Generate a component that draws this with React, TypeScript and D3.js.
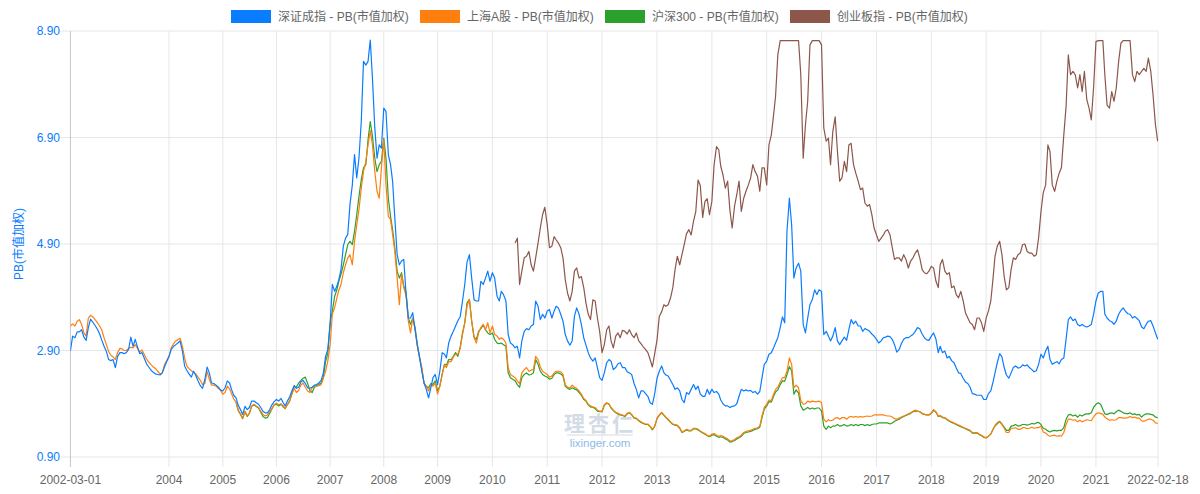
import { useMemo } from 'react';
import * as d3 from 'd3';

// semi-monthly samples, first point 2002-03-01
const startDate = new Date(2002, 2, 1);
const endDate = new Date(2022, 1, 18);
const greenOffset = 74; // 沪深300 starts 2005-04
const brownOffset = 198; // 创业板指 starts 2010-06

const seriesNames = [
  '深证成指 - PB(市值加权)',
  '上海A股 - PB(市值加权)',
  '沪深300 - PB(市值加权)',
  '创业板指 - PB(市值加权)',
];
const seriesColors = ['#0a7cff', '#ff7f0e', '#2ca02c', '#8c564b'];

const szValues = [
  2.89, 3.17, 3.14, 3.25, 3.25, 3.29, 3.15, 3.09, 3.33, 3.49, 3.43, 3.37, 3.30, 3.21, 3.09, 2.98, 2.88, 2.73, 2.71, 2.73,
  2.58, 2.79, 2.86, 2.86, 2.84, 2.86, 2.92, 3.15, 2.98, 3.11, 2.96, 2.84, 2.86, 2.76, 2.65, 2.59, 2.53, 2.49, 2.46, 2.45, 2.44, 2.48, 2.59, 2.69,
  2.79, 2.92, 2.98, 3.01, 3.04, 3.08, 2.89, 2.61, 2.53, 2.46, 2.40, 2.51, 2.43, 2.33, 2.24, 2.19, 2.36, 2.59, 2.48, 2.29, 2.28, 2.25, 2.21, 2.16,
  2.14, 2.20, 2.33, 2.29, 2.17, 2.06, 2.01, 1.87, 1.79, 1.70, 1.85, 1.79, 1.83, 1.95, 1.95, 1.92, 1.89, 1.83, 1.76, 1.73, 1.73, 1.79, 1.88, 1.94,
  1.98, 1.95, 2.00, 1.92, 1.86, 1.95, 2.03, 2.14, 2.24, 2.19, 2.21, 2.31, 2.34, 2.28, 2.20, 2.19, 2.21, 2.25, 2.26, 2.29, 2.34, 2.48, 2.79, 2.92,
  3.39, 4.14, 4.01, 4.11, 4.23, 4.42, 4.86, 5.01, 5.08, 5.64, 6.01, 6.58, 6.14, 6.51, 7.20, 8.33, 8.26, 8.33, 8.73, 8.01, 7.08, 6.51, 6.76, 6.70,
  7.45, 7.39, 6.58, 6.39, 6.08, 5.39, 4.70, 4.51, 4.58, 4.61, 3.95, 3.51, 3.51, 3.61, 3.29, 3.01, 2.76, 2.51, 2.29, 2.17, 2.01, 2.20, 2.39, 2.45,
  2.26, 2.51, 2.86, 2.83, 2.76, 3.04, 3.17, 3.26, 3.36, 3.46, 3.54, 3.83, 4.14, 4.56, 4.70, 4.26, 3.85, 3.83, 3.83, 4.20, 4.14, 4.26, 4.39, 4.20,
  4.36, 4.26, 3.92, 3.83, 4.01, 3.95, 3.83, 3.20, 3.04, 3.01, 2.95, 2.98, 2.76, 3.08, 3.26, 3.31, 3.29, 3.36, 3.39, 3.83, 3.73, 3.48, 3.58, 3.51,
  3.64, 3.67, 3.51, 3.64, 3.73, 3.70, 3.58, 3.45, 3.20, 3.08, 3.00, 3.08, 3.54, 3.70, 3.58, 3.39, 3.14, 3.00, 2.86, 2.76, 2.70, 2.76, 2.58, 2.39,
  2.34, 2.48, 2.67, 2.73, 2.70, 2.54, 2.58, 2.65, 2.67, 2.58, 2.58, 2.50, 2.48, 2.45, 2.28, 2.17, 2.01, 2.14, 2.14, 2.09, 2.04, 1.92, 1.89, 2.08,
  2.38, 2.51, 2.61, 2.48, 2.44, 2.42, 2.34, 2.26, 2.17, 2.20, 2.14, 1.98, 1.92, 2.11, 2.08, 2.17, 2.26, 2.17, 2.23, 2.08, 2.04, 2.04, 2.17, 2.08,
  2.17, 2.11, 2.13, 2.08, 1.97, 1.90, 1.86, 1.86, 1.83, 1.85, 1.86, 1.90, 2.04, 2.17, 2.14, 2.16, 2.14, 2.15, 2.11, 2.13, 2.08, 2.13, 2.39, 2.64,
  2.70, 2.83, 2.86, 2.95, 3.04, 3.14, 3.33, 3.53, 3.42, 5.14, 5.76, 5.26, 4.26, 4.45, 4.54, 4.39, 3.39, 3.23, 3.51, 3.76, 3.86, 4.04, 3.95, 4.04,
  4.01, 3.20, 3.26, 3.17, 3.08, 3.17, 3.33, 3.08, 3.01, 3.08, 3.15, 3.09, 3.29, 3.48, 3.40, 3.45, 3.36, 3.36, 3.26, 3.31, 3.29, 3.26, 3.21, 3.17,
  3.11, 3.04, 3.08, 3.14, 3.15, 3.17, 3.16, 3.11, 3.01, 2.87, 2.92, 3.03, 3.11, 3.14, 3.14, 3.17, 3.20, 3.26, 3.33, 3.31, 3.21, 3.14, 3.10, 3.09,
  3.17, 3.23, 3.11, 2.86, 2.98, 2.86, 2.89, 2.76, 2.79, 2.71, 2.67, 2.57, 2.48, 2.47, 2.38, 2.31, 2.28, 2.21, 2.09, 2.08, 2.06, 2.06, 2.06, 1.98,
  1.98, 2.09, 2.14, 2.31, 2.48, 2.67, 2.84, 2.78, 2.58, 2.44, 2.38, 2.48, 2.58, 2.61, 2.57, 2.58, 2.63, 2.61, 2.63, 2.58, 2.54, 2.50, 2.52, 2.64,
  2.83, 2.76, 2.89, 2.98, 2.73, 2.64, 2.67, 2.69, 2.65, 2.73, 2.76, 3.11, 3.48, 3.53, 3.46, 3.49, 3.39, 3.36, 3.39, 3.36, 3.34, 3.36, 3.39, 3.58,
  3.83, 3.98, 4.01, 4.01, 3.58, 3.51, 3.46, 3.44, 3.39, 3.45, 3.58, 3.65, 3.70, 3.64, 3.59, 3.58, 3.51, 3.54, 3.50, 3.46, 3.34, 3.31, 3.39, 3.45,
  3.46, 3.36, 3.23, 3.11,
];

const shValues = [
  3.36, 3.40, 3.36, 3.45, 3.48, 3.39, 3.23, 3.17, 3.51, 3.56, 3.53, 3.48, 3.42, 3.36, 3.28, 3.14, 3.01, 2.88, 2.81, 2.78,
  2.73, 2.86, 2.94, 2.93, 2.90, 2.90, 2.94, 2.96, 2.95, 3.01, 2.94, 2.87, 2.91, 2.83, 2.74, 2.68, 2.63, 2.59, 2.56, 2.51, 2.46, 2.48, 2.63, 2.71,
  2.79, 2.95, 3.03, 3.08, 3.10, 3.13, 2.98, 2.76, 2.61, 2.56, 2.52, 2.49, 2.46, 2.40, 2.34, 2.26, 2.28, 2.51, 2.36, 2.25, 2.25, 2.23, 2.19, 2.15,
  2.08, 2.11, 2.23, 2.18, 2.09, 1.99, 1.93, 1.78, 1.71, 1.63, 1.76, 1.67, 1.73, 1.86, 1.89, 1.86, 1.83, 1.76, 1.70, 1.67, 1.69, 1.75, 1.81, 1.88,
  1.91, 1.88, 1.90, 1.86, 1.81, 1.89, 1.96, 2.08, 2.19, 2.11, 2.15, 2.25, 2.29, 2.21, 2.14, 2.11, 2.20, 2.23, 2.23, 2.24, 2.26, 2.38, 2.51, 2.70,
  3.01, 3.58, 3.71, 3.89, 4.03, 4.14, 4.36, 4.51, 4.64, 4.70, 4.51, 4.95, 5.26, 5.54, 5.95, 6.26, 6.45, 6.76, 7.03, 6.76, 6.26, 5.89, 5.76, 6.33,
  6.86, 6.01, 5.42, 5.36, 5.08, 4.76, 4.26, 3.76, 4.33, 4.08, 3.92, 3.45, 3.23, 3.51, 3.29, 2.98, 2.76, 2.58, 2.28, 2.23, 2.14, 2.26, 2.23, 2.29,
  2.08, 2.23, 2.45, 2.63, 2.58, 2.69, 2.69, 2.78, 2.83, 2.83, 2.94, 3.20, 3.42, 3.73, 3.86, 3.45, 3.14, 3.04, 3.23, 3.33, 3.39, 3.29, 3.42, 3.23,
  3.36, 3.20, 3.17, 3.11, 3.14, 3.11, 3.04, 2.58, 2.45, 2.42, 2.39, 2.33, 2.28, 2.48, 2.54, 2.58, 2.51, 2.53, 2.54, 2.79, 2.73, 2.59, 2.51, 2.48,
  2.45, 2.40, 2.42, 2.48, 2.51, 2.51, 2.50, 2.45, 2.26, 2.21, 2.20, 2.25, 2.21, 2.19, 2.14, 2.08, 2.00, 1.96, 1.89, 1.86, 1.84, 1.83, 1.78, 1.76,
  1.76, 1.88, 1.92, 1.90, 1.83, 1.78, 1.74, 1.72, 1.70, 1.69, 1.67, 1.72, 1.74, 1.70, 1.64, 1.63, 1.59, 1.56, 1.54, 1.52, 1.52, 1.48, 1.42, 1.48,
  1.63, 1.69, 1.74, 1.69, 1.65, 1.61, 1.56, 1.52, 1.51, 1.50, 1.45, 1.37, 1.39, 1.42, 1.40, 1.40, 1.44, 1.44, 1.42, 1.39, 1.36, 1.34, 1.31, 1.29,
  1.33, 1.34, 1.31, 1.29, 1.30, 1.29, 1.26, 1.24, 1.20, 1.21, 1.23, 1.26, 1.28, 1.31, 1.36, 1.38, 1.39, 1.40, 1.42, 1.44, 1.45, 1.48, 1.67, 1.83,
  1.89, 1.97, 1.96, 2.08, 2.17, 2.21, 2.31, 2.39, 2.39, 2.51, 2.76, 2.64, 2.20, 2.25, 2.20, 1.96, 1.89, 1.90, 1.95, 1.93, 1.95, 1.94, 1.94, 1.95,
  1.92, 1.61, 1.56, 1.60, 1.58, 1.59, 1.63, 1.64, 1.61, 1.64, 1.64, 1.61, 1.65, 1.66, 1.65, 1.66, 1.65, 1.66, 1.65, 1.66, 1.67, 1.66, 1.67, 1.69,
  1.69, 1.69, 1.69, 1.69, 1.68, 1.67, 1.67, 1.65, 1.62, 1.61, 1.63, 1.65, 1.67, 1.69, 1.71, 1.73, 1.76, 1.78, 1.76, 1.75, 1.71, 1.70, 1.69, 1.69,
  1.73, 1.79, 1.75, 1.67, 1.68, 1.65, 1.64, 1.61, 1.58, 1.56, 1.54, 1.52, 1.50, 1.48, 1.46, 1.44, 1.42, 1.40, 1.36, 1.36, 1.36, 1.33, 1.31, 1.28,
  1.26, 1.29, 1.33, 1.42, 1.48, 1.52, 1.56, 1.51, 1.44, 1.36, 1.36, 1.44, 1.44, 1.45, 1.42, 1.42, 1.45, 1.45, 1.43, 1.44, 1.46, 1.44, 1.45, 1.45,
  1.48, 1.37, 1.35, 1.31, 1.29, 1.30, 1.31, 1.29, 1.30, 1.29, 1.36, 1.51, 1.61, 1.61, 1.59, 1.60, 1.56, 1.59, 1.56, 1.58, 1.60, 1.59, 1.58, 1.65,
  1.71, 1.73, 1.72, 1.70, 1.65, 1.62, 1.59, 1.60, 1.59, 1.60, 1.64, 1.64, 1.63, 1.63, 1.64, 1.66, 1.64, 1.65, 1.63, 1.63, 1.58, 1.57, 1.59, 1.61,
  1.61, 1.59, 1.54, 1.53,
];

const hs300Values = [
  1.92, 1.77, 1.70, 1.62, 1.75, 1.66, 1.72, 1.85, 1.88, 1.85, 1.82, 1.74, 1.66, 1.63, 1.64, 1.72, 1.80, 1.88,
  1.89, 1.86, 1.89, 1.84, 1.81, 1.88, 1.95, 2.09, 2.23, 2.21, 2.29, 2.34, 2.38, 2.40, 2.28, 2.15, 2.11, 2.21, 2.24, 2.26, 2.29, 2.40, 2.69, 2.84,
  3.42, 3.64, 3.92, 4.04, 4.20, 4.33, 4.51, 4.70, 4.89, 4.95, 4.89, 5.14, 5.45, 5.79, 6.11, 6.33, 6.39, 6.86, 7.20, 6.92, 6.51, 6.26, 6.39, 6.45,
  6.89, 6.51, 5.76, 5.42, 5.17, 4.83, 4.39, 4.26, 4.36, 4.11, 3.98, 3.51, 3.39, 3.51, 3.33, 3.01, 2.76, 2.54, 2.29, 2.23, 2.20, 2.28, 2.26, 2.33,
  2.14, 2.23, 2.46, 2.64, 2.63, 2.73, 2.73, 2.79, 2.86, 2.79, 2.97, 3.23, 3.42, 3.79, 3.86, 3.45, 3.15, 3.11, 3.26, 3.31, 3.38, 3.29, 3.23, 3.20,
  3.23, 3.11, 3.04, 3.03, 3.04, 3.01, 2.98, 2.48, 2.39, 2.36, 2.33, 2.26, 2.21, 2.39, 2.45, 2.48, 2.44, 2.45, 2.48, 2.73, 2.64, 2.51, 2.45, 2.42,
  2.40, 2.36, 2.38, 2.45, 2.48, 2.48, 2.46, 2.42, 2.23, 2.19, 2.17, 2.20, 2.18, 2.16, 2.11, 2.06, 1.98, 1.95, 1.88, 1.84, 1.83, 1.81, 1.76, 1.75,
  1.75, 1.87, 1.91, 1.89, 1.82, 1.77, 1.73, 1.71, 1.69, 1.68, 1.66, 1.71, 1.73, 1.69, 1.63, 1.62, 1.58, 1.55, 1.53, 1.51, 1.51, 1.47, 1.41, 1.47,
  1.62, 1.68, 1.73, 1.68, 1.64, 1.60, 1.55, 1.51, 1.50, 1.49, 1.44, 1.36, 1.38, 1.41, 1.39, 1.39, 1.43, 1.43, 1.41, 1.38, 1.35, 1.33, 1.30, 1.28,
  1.31, 1.32, 1.29, 1.27, 1.28, 1.27, 1.24, 1.22, 1.18, 1.19, 1.21, 1.24, 1.26, 1.29, 1.34, 1.36, 1.37, 1.38, 1.40, 1.42, 1.43, 1.46, 1.64, 1.80,
  1.86, 1.94, 1.93, 2.04, 2.12, 2.16, 2.26, 2.33, 2.32, 2.45, 2.60, 2.52, 2.08, 2.16, 2.10, 1.86, 1.78, 1.80, 1.83, 1.80, 1.82, 1.80, 1.82, 1.82,
  1.76, 1.48, 1.42, 1.48, 1.45, 1.48, 1.48, 1.51, 1.48, 1.49, 1.51, 1.48, 1.49, 1.51, 1.49, 1.51, 1.49, 1.51, 1.51, 1.49, 1.51, 1.49, 1.51, 1.52,
  1.52, 1.54, 1.54, 1.54, 1.54, 1.54, 1.52, 1.54, 1.57, 1.59, 1.61, 1.64, 1.66, 1.68, 1.70, 1.72, 1.75, 1.76, 1.76, 1.75, 1.72, 1.70, 1.69, 1.69,
  1.72, 1.78, 1.74, 1.66, 1.67, 1.64, 1.63, 1.60, 1.57, 1.55, 1.53, 1.51, 1.49, 1.47, 1.45, 1.43, 1.41, 1.39, 1.35, 1.35, 1.35, 1.32, 1.30, 1.27,
  1.26, 1.29, 1.33, 1.42, 1.49, 1.54, 1.57, 1.52, 1.46, 1.40, 1.40, 1.48, 1.49, 1.51, 1.48, 1.49, 1.51, 1.51, 1.50, 1.51, 1.53, 1.52, 1.54, 1.55,
  1.51, 1.44, 1.42, 1.39, 1.37, 1.39, 1.40, 1.39, 1.40, 1.40, 1.45, 1.61, 1.69, 1.70, 1.67, 1.69, 1.65, 1.69, 1.67, 1.70, 1.71, 1.71, 1.73, 1.83,
  1.89, 1.92, 1.89, 1.79, 1.71, 1.70, 1.72, 1.73, 1.71, 1.75, 1.78, 1.76, 1.73, 1.72, 1.71, 1.73, 1.70, 1.71, 1.69, 1.70, 1.65, 1.69, 1.71, 1.71,
  1.70, 1.69, 1.65, 1.64,
];

const cybValues = [
  4.92, 5.01, 4.14, 4.39, 4.64, 4.67, 4.76, 4.51, 4.39, 4.64, 4.92, 5.20, 5.45, 5.59,
  5.26, 4.83, 4.86, 5.04, 4.98, 4.92, 4.83, 4.64, 4.23, 3.98, 3.83, 4.01, 4.39, 4.45, 4.26, 4.29, 4.08, 3.79, 3.58, 3.48, 3.85, 3.83, 3.51, 3.26,
  2.86, 3.01, 3.29, 3.36, 3.08, 2.95, 3.17, 3.23, 3.14, 3.28, 3.26, 3.21, 3.29, 3.20, 3.14, 3.23, 3.08, 3.03, 2.97, 2.92, 2.86, 2.73, 2.59, 2.83,
  3.10, 3.54, 3.63, 3.76, 3.73, 3.76, 3.89, 4.08, 4.42, 4.67, 4.51, 4.70, 4.89, 5.09, 5.17, 5.07, 5.33, 5.51, 6.10, 6.00, 5.40, 5.70, 5.75, 5.45,
  5.70, 6.39, 6.73, 6.67, 6.36, 6.20, 5.95, 6.08, 5.54, 5.20, 5.61, 5.83, 6.08, 5.51, 5.76, 5.89, 6.01, 6.14, 6.39, 6.26, 6.17, 5.89, 6.33, 6.33,
  6.01, 6.76, 6.95, 7.33, 7.67, 8.45, 8.72, 8.72, 8.72, 8.72, 8.72, 8.72, 8.72, 8.72, 8.72, 8.08, 6.51, 7.14, 7.58, 8.64, 8.72, 8.72, 8.72, 8.72,
  8.64, 7.08, 6.83, 6.89, 6.39, 7.01, 7.29, 6.64, 6.08, 6.14, 6.45, 6.26, 6.76, 6.79, 6.39, 6.23, 6.08, 5.92, 5.95, 5.67, 5.61, 5.64, 5.45, 5.20,
  5.07, 4.95, 5.01, 5.07, 5.14, 5.17, 5.07, 4.83, 4.61, 4.64, 4.64, 4.58, 4.70, 4.61, 4.45, 4.58, 4.64, 4.73, 4.79, 4.64, 4.42, 4.36, 4.34, 4.39,
  4.48, 4.45, 4.20, 4.08, 4.51, 4.61, 4.39, 4.33, 4.36, 4.08, 4.11, 3.95, 3.89, 4.01, 3.83, 3.61, 3.51, 3.42, 3.39, 3.29, 3.51, 3.51, 3.42, 3.26,
  3.51, 3.64, 3.83, 4.26, 4.67, 4.86, 4.95, 4.70, 4.29, 4.04, 4.08, 4.42, 4.64, 4.61, 4.70, 4.73, 4.89, 4.90, 4.76, 4.73, 4.73, 4.67, 4.70, 5.01,
  5.51, 5.86, 6.01, 6.76, 6.64, 6.01, 5.89, 6.08, 6.23, 6.33, 6.95, 7.48, 8.45, 8.08, 8.14, 8.08, 7.83, 8.08, 7.76, 8.14, 7.61, 7.45, 7.23, 7.83,
  8.70, 8.72, 8.72, 8.72, 8.08, 7.51, 7.45, 7.76, 7.58, 7.83, 8.33, 8.67, 8.72, 8.72, 8.72, 8.72, 8.08, 7.95, 8.14, 8.08, 8.14, 8.20, 8.14, 8.39,
  8.14, 7.70, 7.14, 6.83,
];

const yTicks = [0.9, 2.9, 4.9, 6.9, 8.9];
const xTickYears = [2004, 2005, 2006, 2007, 2008, 2009, 2010, 2011, 2012, 2013, 2014, 2015, 2016, 2017, 2018, 2019, 2020, 2021];

const width = 1200;
const height = 494;
const margin = { top: 31, right: 42, bottom: 37, left: 70.4 };
const font = '"Helvetica Neue", Helvetica, Arial, "Liberation Sans", "Noto Sans CJK SC", sans-serif';

// the source axis is spaced by trading sessions, so the years before 2009 sit a bit tighter
const axisBreak = new Date(2009, 0, 1);
const axisBreakShare = 0.3376;

// date of the i-th half-month sample
function sampleDate(i: number) {
  const d = d3.timeMonth.offset(startDate, Math.floor(i / 2));
  return i % 2 ? d3.timeDay.offset(d, 15) : d;
}

export default function App() {
  const innerW = width - margin.left - margin.right;
  const innerH = height - margin.top - margin.bottom;

  const x = d3
    .scaleTime()
    .domain([startDate, axisBreak, endDate])
    .range([margin.left, margin.left + innerW * axisBreakShare, margin.left + innerW]);
  const y = d3.scaleLinear().domain([0.9, 8.9]).range([margin.top + innerH, margin.top]);

  const series = useMemo(() => {
    const mk = (vals: number[], offset: number) =>
      vals.map((v, i) => ({ date: sampleDate(i + offset), value: v }));
    return [
      mk(szValues, 0),
      mk(shValues, 0),
      mk(hs300Values, greenOffset),
      mk(cybValues, brownOffset),
    ];
  }, []);

  const line = d3
    .line<{ date: Date; value: number }>()
    .x(d => x(d.date))
    .y(d => y(d.value));

  const xTicks: { date: Date; label: string }[] = [
    { date: startDate, label: '2002-03-01' },
    ...xTickYears.map(yr => ({ date: new Date(yr, 0, 1), label: String(yr) })),
    { date: endDate, label: '2022-02-18' },
  ];

  const legendX = [231, 420, 605, 790];
  const bottom = margin.top + innerH;
  const right = margin.left + innerW;

  return (
    <svg
      width={width}
      height={height}
      style={{ position: 'absolute', left: 0, top: 0, background: '#fff' }}
      fontFamily={font}
    >
      <defs>
        <clipPath id="plot-clip">
          <rect x={margin.left} y={margin.top - 2} width={innerW} height={innerH + 2} />
        </clipPath>
      </defs>

      {/* horizontal grid */}
      {yTicks.map(t => (
        <line key={t} x1={margin.left - 10} x2={right} y1={y(t)} y2={y(t)} stroke="#e6e6e6" />
      ))}
      {/* vertical grid */}
      {xTicks.map((t, i) => (
        <line
          key={t.label}
          x1={x(t.date)}
          x2={x(t.date)}
          y1={margin.top}
          y2={bottom + 10}
          stroke={i === 0 ? '#c4c4c4' : '#e6e6e6'}
        />
      ))}

      {/* watermark */}
      <g textAnchor="middle">
        <text x={600} y={431} fontSize={21} fontWeight="bold" fill="#d3dce6" letterSpacing={3}>
          理杏仁
        </text>
        <line x1={567} x2={633} y1={435} y2={435} stroke="#d3dce6" />
        <text x={600} y={447} fontSize={11.5} fill="#8dbbe8">
          lixinger.com
        </text>
      </g>

      <g clipPath="url(#plot-clip)" fill="none" strokeWidth={1.2} strokeLinejoin="round">
        {[3, 2, 1, 0].map(k => (
          <path key={k} d={line(series[k]) || ''} stroke={seriesColors[k]} />
        ))}
      </g>

      {/* y labels */}
      {yTicks.map(t => (
        <text key={t} x={60} y={y(t) + 4} textAnchor="end" fontSize={12} fill={seriesColors[0]}>
          {t.toFixed(2)}
        </text>
      ))}
      <text
        transform={`translate(19, ${(margin.top + bottom) / 2}) rotate(-90)`}
        textAnchor="middle"
        dy="0.35em"
        fontSize={12}
        fill={seriesColors[0]}
      >
        PB(市值加权)
      </text>

      {/* x labels */}
      {xTicks.map(t => (
        <text key={t.label} x={x(t.date)} y={484} textAnchor="middle" fontSize={12} fill="#666">
          {t.label}
        </text>
      ))}

      {/* legend */}
      {seriesNames.map((name, i) => (
        <g key={name}>
          <rect x={legendX[i]} y={10} width={40} height={13} fill={seriesColors[i]} />
          <text x={legendX[i] + 47} y={21} fontSize={12} fill="#666">
            {name}
          </text>
        </g>
      ))}
    </svg>
  );
}
